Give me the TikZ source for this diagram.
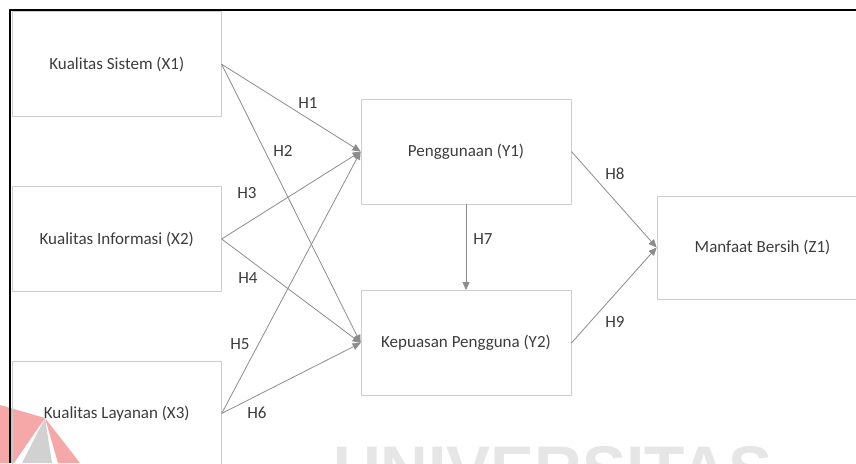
\documentclass[tikz,border=0pt]{standalone}
\usepackage{fontspec}
\setmainfont{Carlito}
\newfontfamily\markfont{Liberation Sans}
\usetikzlibrary{arrows.meta}

\begin{document}
\begin{tikzpicture}[x=1pt, y=-1pt, line join=round]

    % --- Colors ---
    \definecolor{boxborder}{RGB}{205, 205, 205}
    \definecolor{linkgray}{RGB}{140, 140, 140}
    \definecolor{textgray}{RGB}{60, 60, 60}
    \definecolor{markgray}{RGB}{230, 230, 230}
    \definecolor{markred}{RGB}{240, 110, 110}

    % --- Styles ---
    \tikzset{
        varbox/.style={draw=boxborder, line width=0.8pt, inner sep=0pt,
            minimum width=209pt, minimum height=105pt,
            font=\fontsize{17}{20}\selectfont, text=textgray},
        link/.style={draw=linkgray, line width=0.8pt,
            -{Triangle[length=8pt, width=7pt]}},
        hlabel/.style={font=\fontsize{17}{20}\selectfont, text=textgray},
    }

    \useasboundingbox (0,0) rectangle (856,463);
    \clip (0,0) rectangle (856,463);

    % --- 1. Watermark (underneath everything) ---
    \fill[markred, opacity=0.6] (0,405) -- (45,418) -- (14,463) -- (0,463) -- cycle;
    \fill[markred, opacity=0.6] (45,418) -- (80,463) -- (58,463) -- cycle;
    \fill[black!18] (45,418) -- (52,463) -- (22,463) -- cycle;
    \node[anchor=base west, inner sep=0pt, text=markgray,
        font=\markfont\bfseries\fontsize{66}{70}\selectfont] (mark) at (333, 492) {UNIVERSITAS};

    % --- 2. Frame ---
    \draw[black, line width=1.5pt] (10,463) -- (10,10) -- (856,10);

    % --- 3. Variables ---
    \node[varbox] (x1) at (116.75, 64.25) {Kualitas Sistem (X1)};
    \node[varbox] (x2) at (116.75, 239) {Kualitas Informasi (X2)};
    \node[varbox] (x3) at (116.75, 413.5) {Kualitas Layanan (X3)};
    \node[varbox, minimum width=210pt] (y1) at (466, 151.5) {Penggunaan (Y1)};
    \node[varbox, minimum width=210pt] (y2) at (466, 343) {Kepuasan Pengguna (Y2)};
    \node[varbox, minimum width=211pt, minimum height=103pt] (z1) at (762.5, 247.5) {Manfaat Bersih (Z1)};

    % --- 4. Hypothesis links ---
    \foreach \u/\v in {x1/y1, x1/y2, x2/y1, x2/y2, x3/y1, x3/y2, y1/z1, y2/z1}
        \draw[link] (\u.east) -- (\v.west);
    \draw[link] (y1) -- (y2);

    % --- 5. Labels ---
    \foreach \n/\px/\py in {1/308/103, 2/283/151, 3/247/193, 4/248/278,
        5/240/344, 6/257/413, 7/483/239, 8/615/174, 9/615/322}
        \node[hlabel] (h\n) at (\px, \py) {H\n};

\end{tikzpicture}
\end{document}
